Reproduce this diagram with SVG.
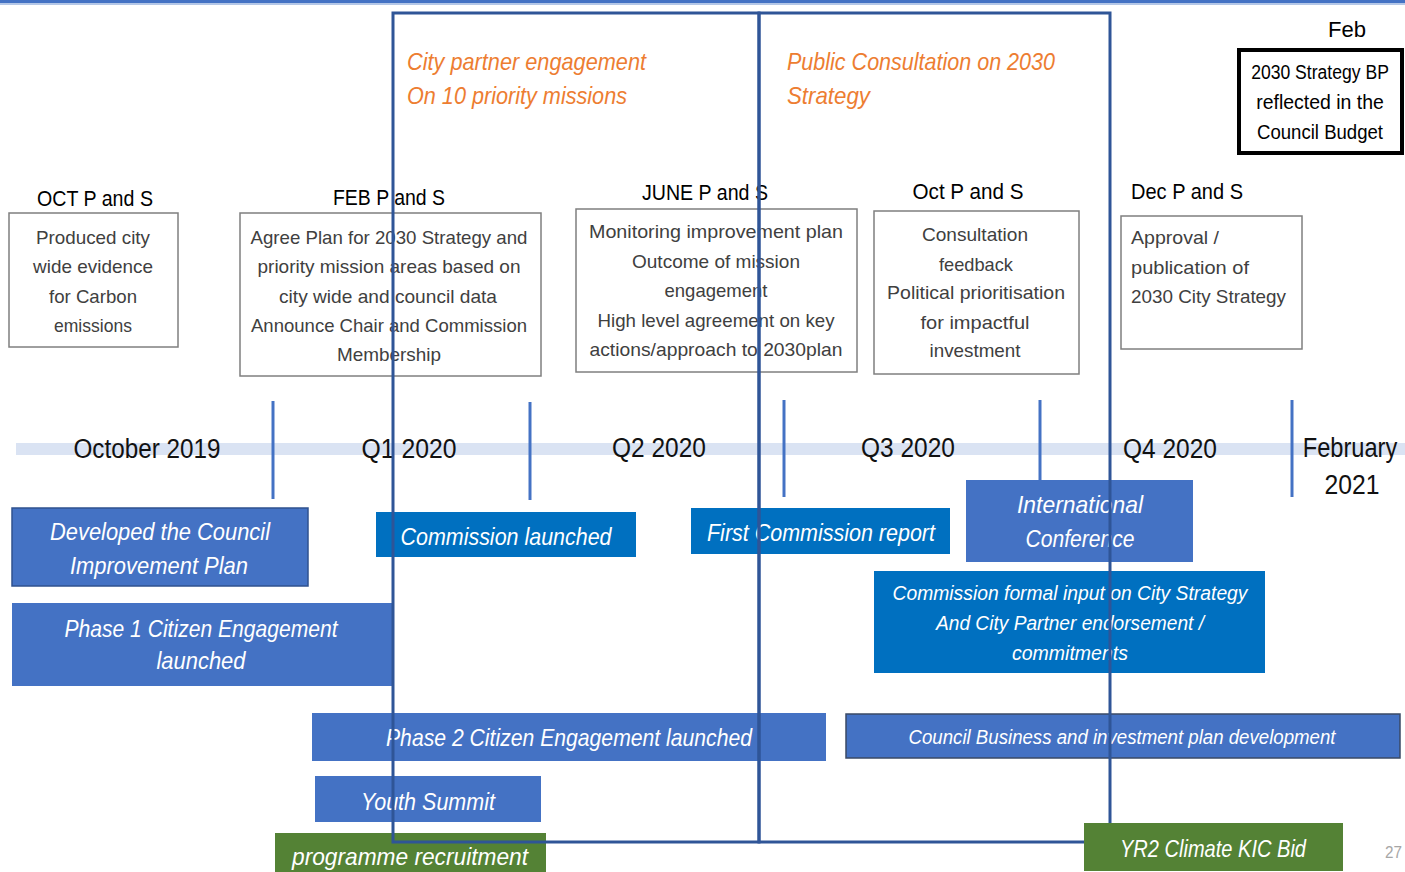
<svg xmlns="http://www.w3.org/2000/svg" width="1405" height="872" viewBox="0 0 1405 872">
<style>
text{font-family:"Liberation Sans",Arial,sans-serif;}
.hdr{font-size:22px;fill:#000;text-anchor:middle;}
.box{fill:#fff;stroke:#7f7f7f;stroke-width:1.5;}
.bt{font-size:19px;fill:#404040;text-anchor:middle;}
.btl{font-size:19px;fill:#404040;}
.tl{font-size:27px;fill:#111;text-anchor:middle;}
.tick{stroke:#4472C4;stroke-width:3;}
.or{font-size:24px;fill:#ED7D31;font-style:italic;}
.b1{fill:#4472C4;}
.b2{fill:#0070C0;}
.gr{fill:#548235;}
.wt{font-size:24px;fill:#fff;font-style:italic;text-anchor:middle;}
.ws{font-size:20px;fill:#fff;font-style:italic;text-anchor:middle;}
.frame{fill:none;stroke:#2F5597;stroke-width:3;}
</style>
<rect x="0" y="0" width="1405" height="872" fill="#fff"/>
<rect x="0" y="0" width="1405" height="3" fill="#4472C4"/>
<rect x="0" y="3" width="1405" height="2" fill="#B4C7E7"/>

<g id="orange-labels">
<text class="or" x="407" y="70" textLength="239" lengthAdjust="spacingAndGlyphs">City partner engagement</text>
<text class="or" x="407" y="104" textLength="220" lengthAdjust="spacingAndGlyphs">On 10 priority missions</text>
<text class="or" x="787" y="70" textLength="268" lengthAdjust="spacingAndGlyphs">Public Consultation on 2030</text>
<text class="or" x="787" y="104" textLength="83" lengthAdjust="spacingAndGlyphs">Strategy</text>
</g>

<g id="feb-budget">
<text class="hdr" x="1347" y="37" textLength="38" lengthAdjust="spacingAndGlyphs">Feb</text>
<rect x="1239" y="50" width="163" height="103" fill="#fff" stroke="#000" stroke-width="4"/>
<g transform="translate(1320 0) scale(0.84 1)">
<text class="hdr" style="font-size:21px" x="0" y="79" textLength="164" lengthAdjust="spacingAndGlyphs">2030 Strategy BP</text>
<text class="hdr" style="font-size:21px" x="0" y="109" textLength="152" lengthAdjust="spacingAndGlyphs">reflected in the</text>
<text class="hdr" style="font-size:21px" x="0" y="139" textLength="150" lengthAdjust="spacingAndGlyphs">Council Budget</text>
</g>
</g>

<g id="oct-ps">
<text class="hdr" x="95" y="206" textLength="116" lengthAdjust="spacingAndGlyphs">OCT P and S</text>
<rect class="box" x="9" y="213" width="169" height="134"/>
<text class="bt" x="93" y="244" textLength="114" lengthAdjust="spacingAndGlyphs">Produced city</text>
<text class="bt" x="93" y="273" textLength="120" lengthAdjust="spacingAndGlyphs">wide evidence</text>
<text class="bt" x="93" y="303" textLength="88" lengthAdjust="spacingAndGlyphs">for Carbon</text>
<text class="bt" x="93" y="332" textLength="78" lengthAdjust="spacingAndGlyphs">emissions</text>
</g>

<g id="feb-ps">
<text class="hdr" x="389" y="205" textLength="112" lengthAdjust="spacingAndGlyphs">FEB P and S</text>
<rect class="box" x="240" y="213" width="301" height="163"/>
<text class="bt" x="389" y="244" textLength="277" lengthAdjust="spacingAndGlyphs">Agree Plan for 2030 Strategy and</text>
<text class="bt" x="389" y="273" textLength="263" lengthAdjust="spacingAndGlyphs">priority mission areas based on</text>
<text class="bt" x="388" y="303" textLength="218" lengthAdjust="spacingAndGlyphs">city wide and council data</text>
<text class="bt" x="389" y="332" textLength="276" lengthAdjust="spacingAndGlyphs">Announce Chair and Commission</text>
<text class="bt" x="389" y="361" textLength="104" lengthAdjust="spacingAndGlyphs">Membership</text>
</g>

<g id="june-ps">
<text class="hdr" x="705" y="200" textLength="126" lengthAdjust="spacingAndGlyphs">JUNE P and S</text>
<rect class="box" x="576" y="209" width="281" height="163"/>
<text class="bt" x="716" y="238" textLength="254" lengthAdjust="spacingAndGlyphs">Monitoring improvement plan</text>
<text class="bt" x="716" y="268" textLength="168" lengthAdjust="spacingAndGlyphs">Outcome of mission</text>
<text class="bt" x="716" y="297" textLength="103" lengthAdjust="spacingAndGlyphs">engagement</text>
<text class="bt" x="716" y="327" textLength="237" lengthAdjust="spacingAndGlyphs">High level agreement on key</text>
<text class="bt" x="716" y="356" textLength="253" lengthAdjust="spacingAndGlyphs">actions/approach to 2030plan</text>
</g>

<g id="oct-ps-2020">
<text class="hdr" x="968" y="199" textLength="111" lengthAdjust="spacingAndGlyphs">Oct P and S</text>
<rect class="box" x="874" y="211" width="205" height="163"/>
<text class="bt" x="975" y="241" textLength="106" lengthAdjust="spacingAndGlyphs">Consultation</text>
<text class="bt" x="976" y="271" textLength="74" lengthAdjust="spacingAndGlyphs">feedback</text>
<text class="bt" x="976" y="299" textLength="178" lengthAdjust="spacingAndGlyphs">Political prioritisation</text>
<text class="bt" x="975" y="329" textLength="109" lengthAdjust="spacingAndGlyphs">for impactful</text>
<text class="bt" x="975" y="357" textLength="91" lengthAdjust="spacingAndGlyphs">investment</text>
</g>

<g id="dec-ps">
<text class="hdr" x="1187" y="199" textLength="112" lengthAdjust="spacingAndGlyphs">Dec P and S</text>
<rect class="box" x="1121" y="216" width="181" height="133"/>
<text class="btl" x="1131" y="244" textLength="88" lengthAdjust="spacingAndGlyphs">Approval /</text>
<text class="btl" x="1131" y="274" textLength="118" lengthAdjust="spacingAndGlyphs">publication of</text>
<text class="btl" x="1131" y="303" textLength="155" lengthAdjust="spacingAndGlyphs">2030 City Strategy</text>
</g>

<g id="connectors">
<rect x="16" y="443" width="1389" height="12" fill="#DAE3F3"/>
<line class="tick" x1="273" y1="401" x2="273" y2="499"/>
<line class="tick" x1="530" y1="402" x2="530" y2="500"/>
<line class="tick" x1="784" y1="400" x2="784" y2="497"/>
<line class="tick" x1="1040" y1="400" x2="1040" y2="481"/>
<line class="tick" x1="1292" y1="400" x2="1292" y2="497"/>
</g>

<g id="timeline-labels">
<text class="tl" x="147" y="458" textLength="147" lengthAdjust="spacingAndGlyphs">October 2019</text>
<text class="tl" x="409" y="458" textLength="95" lengthAdjust="spacingAndGlyphs">Q1 2020</text>
<text class="tl" x="659" y="457" textLength="94" lengthAdjust="spacingAndGlyphs">Q2 2020</text>
<text class="tl" x="908" y="457" textLength="94" lengthAdjust="spacingAndGlyphs">Q3 2020</text>
<text class="tl" x="1170" y="458" textLength="94" lengthAdjust="spacingAndGlyphs">Q4 2020</text>
<g transform="translate(1350 0) scale(0.86 1)">
<text class="tl" x="0" y="457" textLength="110" lengthAdjust="spacingAndGlyphs">February</text>
</g>
<text class="tl" x="1352" y="494" textLength="55" lengthAdjust="spacingAndGlyphs">2021</text>
</g>

<g id="council-improvement">
<rect class="b1" x="12" y="508" width="296" height="78" stroke="#2F528F" stroke-width="1.5"/>
<text class="wt" x="160" y="540" textLength="220" lengthAdjust="spacingAndGlyphs">Developed  the Council</text>
<text class="wt" x="159" y="574" textLength="178" lengthAdjust="spacingAndGlyphs">Improvement Plan</text>
</g>

<g id="phase1">
<rect class="b1" x="12" y="603" width="381" height="83"/>
<text class="wt" x="201" y="637" textLength="273" lengthAdjust="spacingAndGlyphs">Phase 1 Citizen Engagement</text>
<text class="wt" x="201" y="669" textLength="89" lengthAdjust="spacingAndGlyphs">launched</text>
</g>

<g id="commission-launched">
<rect class="b2" x="376" y="512" width="260" height="45"/>
<text class="wt" x="506" y="545" textLength="211" lengthAdjust="spacingAndGlyphs">Commission launched</text>
</g>

<g id="first-report">
<rect class="b2" x="691" y="508" width="259" height="46"/>
<text class="wt" x="821" y="541" textLength="228" lengthAdjust="spacingAndGlyphs">First Commission report</text>
</g>

<g id="intl-conference">
<rect class="b1" x="966" y="480" width="227" height="82"/>
<text class="wt" x="1080" y="513" textLength="126" lengthAdjust="spacingAndGlyphs">International</text>
<text class="wt" x="1080" y="547" textLength="109" lengthAdjust="spacingAndGlyphs">Conference</text>
</g>

<g id="commission-input">
<rect class="b2" x="874" y="571" width="391" height="102"/>
<text class="ws" x="1070" y="600" textLength="355" lengthAdjust="spacingAndGlyphs">Commission formal input  on City Strategy</text>
<text class="ws" x="1070" y="630" textLength="268" lengthAdjust="spacingAndGlyphs">And City Partner endorsement  /</text>
<text class="ws" x="1070" y="660" textLength="116" lengthAdjust="spacingAndGlyphs">commitments</text>
</g>

<g id="phase2">
<rect class="b1" x="312" y="713" width="514" height="48"/>
<text class="wt" x="569" y="746" textLength="366" lengthAdjust="spacingAndGlyphs">Phase 2 Citizen Engagement launched</text>
</g>

<g id="council-business">
<rect class="b1" x="846" y="714" width="554" height="44" stroke="#3A4A66" stroke-width="1.5"/>
<text class="ws" x="1122" y="744" textLength="427" lengthAdjust="spacingAndGlyphs">Council Business and investment plan development</text>
</g>

<g id="youth-summit">
<rect class="b1" x="315" y="776" width="226" height="46"/>
<text class="wt" x="428" y="810" textLength="134" lengthAdjust="spacingAndGlyphs">Youth Summit</text>
</g>

<g id="programme-recruitment">
<rect class="gr" x="275" y="833" width="271" height="39"/>
<text class="wt" x="410" y="865" textLength="236" lengthAdjust="spacingAndGlyphs">programme  recruitment</text>
</g>

<g id="frames">
<rect class="frame" x="393" y="13" width="366" height="829"/>
<rect class="frame" x="759" y="13" width="351" height="829"/>
</g>

<g id="climate-kic">
<rect class="gr" x="1084" y="823" width="259" height="48"/>
<text class="wt" x="1213" y="857" textLength="186" lengthAdjust="spacingAndGlyphs">YR2 Climate KIC Bid</text>
</g>

<g id="page-number">
<text x="1385" y="858" style="font-size:16px;fill:#A6A6A6" textLength="17" lengthAdjust="spacingAndGlyphs">27</text>
</g>
</svg>
